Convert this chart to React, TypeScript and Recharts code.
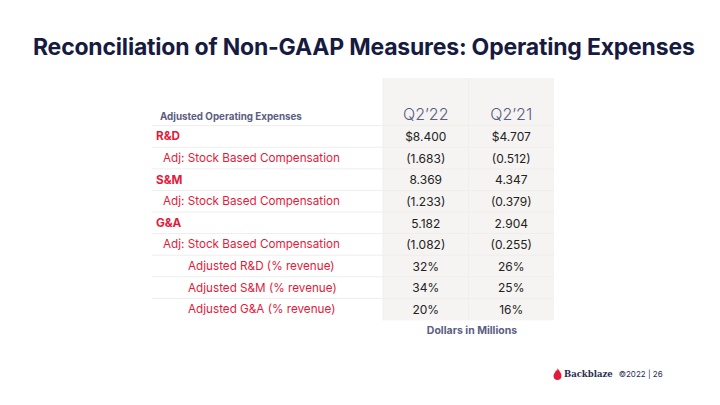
import React from "react";
import { ComposedChart, Bar, XAxis, YAxis, LabelList } from "recharts";

// table content
const header = { label: "Adjusted Operating Expenses", q22: "Q2\u201922", q21: "Q2\u201921" };
const rowLabels = [
  "R&D",
  "Adj: Stock Based Compensation",
  "S&M",
  "Adj: Stock Based Compensation",
  "G&A",
  "Adj: Stock Based Compensation",
  "Adjusted R&D (% revenue)",
  "Adjusted S&M (% revenue)",
  "Adjusted G&A (% revenue)",
];
const rowLevels = [0, 1, 0, 1, 0, 1, 2, 2, 2];
const q22Values = ["$8.400", "(1.683)", "8.369", "(1.233)", "5.182", "(1.082)", "32%", "34%", "20%"];
const q21Values = ["$4.707", "(0.512)", "4.347", "(0.379)", "2.904", "(0.255)", "26%", "25%", "16%"];

const rows = [
  { key: "h", label: header.label, level: -1, q22: header.q22, q21: header.q21 },
  ...rowLabels.map((label, i) => ({
    key: "r" + i,
    label,
    level: rowLevels[i],
    q22: q22Values[i],
    q21: q21Values[i],
  })),
];

const FONT = "Inter, 'Noto Sans', sans-serif";
const RED = "#e21b3c";
const NAVY = "#171b40";
const MUTED = "#5b5d82";
const GREY = "#f5f4f2";

const TOP = 104;
const BOTTOM = 320;
const BAND = (BOTTOM - TOP) / rows.length;
const HEADER_EXTRA = 26;
const indentX = [160, 156, 163, 188];

const RowTick = (props: any) => {
  const { y, index } = props;
  const row = rows[index];
  if (!row) return null;
  const isHeader = row.level < 0;
  return (
    <g>
      {!isHeader && (
        <line x1={152} x2={383} y1={y - BAND / 2} y2={y - BAND / 2} stroke="#eeeeee" strokeWidth={1} />
      )}
      <text
        x={indentX[row.level + 1]}
        y={isHeader ? y + 2 : y}
        dominantBaseline="central"
        fontFamily={FONT}
        fontSize={isHeader ? 9.8 : 11.7}
        fontWeight={isHeader || row.level === 0 ? 700 : 400}
        fill={isHeader ? MUTED : RED}
      >
        {row.label}
      </text>
    </g>
  );
};

const CellShape = (props: any) => {
  const { x, y, width, height, index } = props;
  const top = index === 0 ? y - HEADER_EXTRA : y;
  return (
    <g>
      <rect x={x} y={top} width={width} height={height + (y - top)} fill={GREY} />
      {index > 0 && <line x1={x} x2={x + width} y1={y} y2={y} stroke="#efeeeb" />}
      <line x1={x} x2={x} y1={top} y2={y + height} stroke="#f0efec" />
    </g>
  );
};

const renderValue = (props: any) => {
  const { x, y, width, height, value, index } = props;
  const isHeader = index === 0;
  return (
    <text
      x={x + width / 2}
      y={y + height / 2 + (isHeader ? -1 : 0)}
      textAnchor="middle"
      dominantBaseline="central"
      fontFamily={FONT}
      fontSize={isHeader ? 16 : 12}
      fontWeight={isHeader ? 300 : 400}
      fill={isHeader ? MUTED : "#222"}
    >
      {value}
    </text>
  );
};

export default function App() {
  return (
    <div style={{ position: "absolute", left: 0, top: 0, width: 720, height: 405, background: "#fff", fontFamily: FONT }}>
      <div
        style={{
          position: "absolute",
          left: 33,
          top: 33,
          fontSize: 23,
          fontWeight: 700,
          color: NAVY,
          whiteSpace: "nowrap",
          letterSpacing: -0.2,
        }}
      >
        Reconciliation of Non-GAAP Measures: Operating Expenses
      </div>
      <div style={{ position: "absolute", left: 0, top: 0 }}>
        <ComposedChart
          width={720}
          height={405}
          data={rows}
          layout="vertical"
          barCategoryGap={0}
          barGap={0}
          margin={{ top: TOP, bottom: 405 - BOTTOM, left: 153, right: 166 }}
        >
          <XAxis type="number" domain={[0, 2]} hide />
          <YAxis
            type="category"
            dataKey="key"
            width={230}
            axisLine={false}
            tickLine={false}
            interval={0}
            tick={<RowTick />}
          />
          <Bar dataKey={() => 1} stackId="t" shape={<CellShape />} isAnimationActive={false}>
            <LabelList dataKey="q22" content={renderValue} />
          </Bar>
          <Bar dataKey={() => 1} stackId="t" shape={<CellShape />} isAnimationActive={false}>
            <LabelList dataKey="q21" content={renderValue} />
          </Bar>
        </ComposedChart>
      </div>
      <div
        style={{
          position: "absolute",
          left: 383,
          width: 178,
          top: 324,
          textAlign: "center",
          fontSize: 10.5,
          fontWeight: 700,
          color: MUTED,
        }}
      >
        Dollars in Millions
      </div>
      <div
        style={{
          position: "absolute",
          left: 553,
          top: 368,
          display: "flex",
          alignItems: "center",
          fontSize: 8,
          color: "#2a2d50",
          whiteSpace: "nowrap",
        }}
      >
        <svg width={9} height={12} viewBox="0 0 9 12" style={{ marginRight: 2 }}>
          <path d="M4.5 0 C6 3 8.5 4.5 8.5 8 C8.5 10.5 6.7 12 4.5 12 C2.3 12 0.5 10.5 0.5 8 C0.5 5.5 2.5 4.5 3 2 C3.8 3.5 4.8 2 4.5 0 Z" fill={RED} />
        </svg>
        <span style={{ fontFamily: "'DejaVu Serif', serif", fontWeight: 700, fontSize: 8.5, marginRight: 6 }}>Backblaze</span>
        <span>{"\u00a92022  |  26"}</span>
      </div>
    </div>
  );
}
